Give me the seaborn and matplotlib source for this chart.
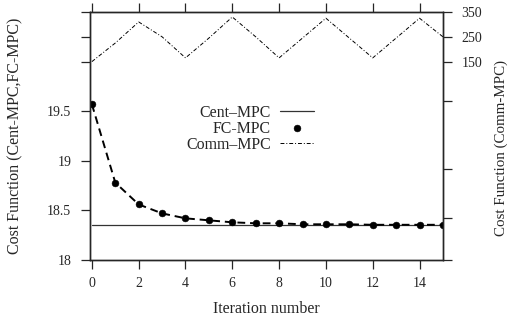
import matplotlib
matplotlib.use('Agg')
import matplotlib.pyplot as plt
import numpy as np
import pandas as pd
import seaborn as sns

# data
iterations = list(range(16))
fc_mpc = [19.57, 18.78, 18.56, 18.47, 18.42, 18.40, 18.38, 18.37,
          18.37, 18.36, 18.36, 18.36, 18.355, 18.355, 18.355, 18.355]
cent_mpc = [18.35] * 16
comm_mpc = [150, 225, 310, 250, 165, 245, 330, 250,
            165, 245, 325, 245, 165, 245, 325, 250]

left_ticks = [18, 18.5, 19, 19.5, 20, 20.25, 20.5]
left_labels = ['18', '18.5', '19', '19.5', '', '', '']
right_ticks = [-650, -482, -282, -10, 150, 250, 350]
right_labels = ['', '', '', '', '150', '250', '350']
x_ticks = [0, 2, 4, 6, 8, 10, 12, 14]

df = pd.DataFrame({'iteration': iterations, 'fc': fc_mpc,
                   'cent': cent_mpc, 'comm': comm_mpc})

sns.set_style('ticks')
plt.rcParams['font.family'] = ['Liberation Serif', 'DejaVu Serif']
plt.rcParams['xtick.direction'] = 'out'
plt.rcParams['ytick.direction'] = 'out'

fig = plt.figure(figsize=(5.1, 3.25), dpi=100)
ax = fig.add_axes([0.1765, 0.2, 0.692, 0.763])
ax2 = ax.twinx()

sns.lineplot(data=df, x='iteration', y='cent', ax=ax, color='#333333',
             lw=0.9, label='Cent–MPC')
sns.lineplot(data=df, x='iteration', y='fc', ax=ax, color='black',
             lw=1.4, linestyle=(0, (4, 2.5)), legend=False)
sns.scatterplot(data=df, x='iteration', y='fc', ax=ax, color='black',
                s=24, edgecolor='black', zorder=5, label='FC-MPC')
sns.lineplot(data=df, x='iteration', y='comm', ax=ax2, color='black',
             lw=0.7, linestyle=(0, (4, 2, 1, 2)), label='Comm–MPC')

ax.set_xlim(-0.08, 15)
ax.set_ylim(18, 20.5)
ax2.set_ylim(-650, 350)

ax.set_xticks(x_ticks)
ax.set_yticks(left_ticks)
ax.set_yticklabels(left_labels)
ax2.set_yticks(right_ticks)
ax2.set_yticklabels(right_labels)

ax.tick_params(axis='x', length=6.5, width=0.9, pad=6, labelsize=10,
               top=True, labeltop=False)
ax.tick_params(axis='y', length=6.5, width=0.9, pad=7, labelsize=10)
ax2.tick_params(axis='y', length=6.5, width=0.9, pad=7, labelsize=10)

for a in (ax, ax2):
    for s in a.spines.values():
        s.set_linewidth(1.0)
        s.set_visible(True)

ax.set_xlabel('Iteration number', fontsize=11.5)
ax.xaxis.set_label_coords(0.5, -0.165)
ax.set_ylabel('Cost Function (Cent-MPC,FC-MPC)', fontsize=11.5)
ax.yaxis.set_label_coords(-0.19, 0.5)
ax2.set_ylabel('Cost Function (Comm-MPC)', fontsize=10.8)
ax2.yaxis.set_label_coords(1.146, 0.45)

h1, l1 = ax.get_legend_handles_labels()
h2, l2 = ax2.get_legend_handles_labels()
ax.get_legend().remove()
ax2.get_legend().remove()
ax2.legend(h1 + h2, l1 + l2, loc='center', bbox_to_anchor=(0.453, 0.53),
           frameon=False, markerfirst=False, fontsize=11.4, handlelength=2.1,
           labelspacing=0.0, handletextpad=0.6, borderaxespad=0)

fig.savefig('out.png', dpi=100)
